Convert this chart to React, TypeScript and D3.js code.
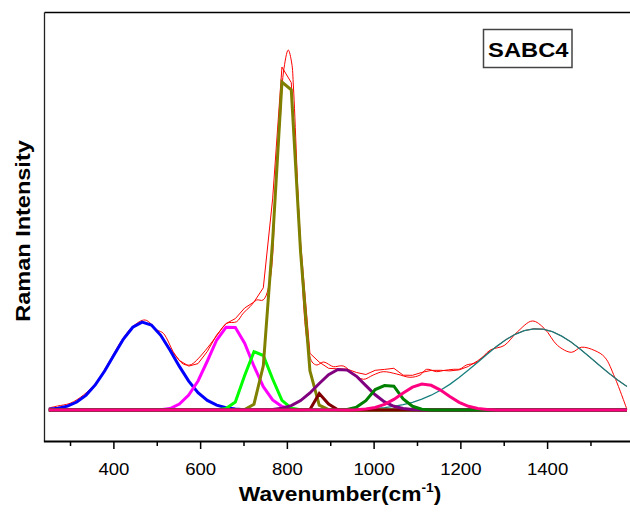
import React from "react";
import * as d3 from "d3";

// Raman spectrum of SABC4 with its fitted peak components.
// Intensities are in arbitrary counts; wavenumbers in cm^-1.

// Sampling grid shared by the fitted components
const WAVENUMBER = [
  250, 271.5, 293, 314.5, 336, 357.5, 379, 400.5, 422, 443.5, 465, 486.5, 508, 529.5, 551, 572.5,
  594, 615.5, 637, 658.5, 680, 701.5, 723, 744.5, 766, 787.5, 809, 830.5, 852, 873.5, 895, 916.5,
  938, 959.5, 981, 1002.5, 1024, 1045.5, 1067, 1088.5, 1110, 1131.5, 1153, 1174.5, 1196, 1217.5,
  1239, 1260.5, 1282, 1303.5, 1325, 1346.5, 1368, 1389.5, 1411, 1432.5, 1454, 1475.5, 1497, 1518.5,
  1540, 1561.5, 1583,
];

// Fitted components (one value per grid point)
const PEAK_470 = [
  7, 17, 39, 80, 149, 253, 392, 553, 709, 828, 879, 850, 747, 598, 436, 289,
  174, 96, 48, 22, 9, 3, 1, 0, 0, 0, 0, 0, 0, 0, 0, 0,
  0, 0, 0, 0, 0, 0, 0, 0, 0, 0, 0, 0, 0, 0,
  0, 0, 0, 0, 0, 0, 0, 0, 0, 0, 0, 0, 0, 0,
  0, 0, 0,
];
const PEAK_670 = [
  0, 0, 0, 0, 0, 0, 0, 0, 0, 0, 0, 0, 2, 14, 60, 150,
  290, 490, 700, 827, 825, 668, 438, 233, 101, 35, 10, 2, 0, 0, 0, 0,
  0, 0, 0, 0, 0, 0, 0, 0, 0, 0, 0, 0, 0, 0,
  0, 0, 0, 0, 0, 0, 0, 0, 0, 0, 0, 0, 0, 0,
  0, 0, 0,
];
const PEAK_730 = [
  0, 0, 0, 0, 0, 0, 0, 0, 0, 0, 0, 0, 0, 0, 0, 0,
  0, 0, 3, 15, 80, 345, 583, 545, 310, 96, 18, 2, 0, 0, 0, 0,
  0, 0, 0, 0, 0, 0, 0, 0, 0, 0, 0, 0, 0, 0,
  0, 0, 0, 0, 0, 0, 0, 0, 0, 0, 0, 0, 0, 0,
  0, 0, 0,
];
const PEAK_800 = [
  0, 0, 0, 0, 0, 0, 0, 0, 0, 0, 0, 0, 0, 0, 0, 0,
  0, 0, 0, 0, 0, 4, 58, 442, 1694, 3280, 3202, 1577, 392, 49, 3, 0,
  0, 0, 0, 0, 0, 0, 0, 0, 0, 0, 0, 0, 0, 0,
  0, 0, 0, 0, 0, 0, 0, 0, 0, 0, 0, 0, 0, 0,
  0, 0, 0,
];
const PEAK_880 = [
  0, 0, 0, 0, 0, 0, 0, 0, 0, 0, 0, 0, 0, 0, 0, 0,
  0, 0, 0, 0, 0, 0, 0, 0, 0, 0, 0, 0, 5, 165, 60, 3,
  0, 0, 0, 0, 0, 0, 0, 0, 0, 0, 0, 0, 0, 0,
  0, 0, 0, 0, 0, 0, 0, 0, 0, 0, 0, 0, 0, 0,
  0, 0, 0,
];
const PEAK_925 = [
  0, 0, 0, 0, 0, 0, 0, 0, 0, 0, 0, 0, 0, 0, 0, 0,
  0, 0, 0, 0, 0, 0, 0, 2, 6, 18, 44, 94, 170, 265, 353, 405,
  399, 337, 244, 152, 81, 37, 15, 5, 1, 0, 0, 0, 0, 0,
  0, 0, 0, 0, 0, 0, 0, 0, 0, 0, 0, 0, 0, 0,
  0, 0, 0,
];
const PEAK_1025 = [
  0, 0, 0, 0, 0, 0, 0, 0, 0, 0, 0, 0, 0, 0, 0, 0,
  0, 0, 0, 0, 0, 0, 0, 0, 0, 0, 0, 0, 0, 0, 0, 1,
  6, 29, 93, 205, 245, 238, 110, 37, 8, 1, 0, 0, 0, 0,
  0, 0, 0, 0, 0, 0, 0, 0, 0, 0, 0, 0, 0, 0,
  0, 0, 0,
];
const PEAK_1115 = [
  0, 0, 0, 0, 0, 0, 0, 0, 0, 0, 0, 0, 0, 0, 0, 0,
  0, 0, 0, 0, 0, 0, 0, 0, 0, 0, 0, 0, 0, 0, 0, 0,
  1, 3, 9, 25, 56, 106, 170, 228, 259, 247, 199, 135, 77, 37,
  15, 5, 1, 0, 0, 0, 0, 0, 0, 0, 0, 0, 0, 0,
  0, 0, 0,
];
const PEAK_1375 = [
  0, 0, 0, 0, 0, 0, 0, 0, 0, 0, 0, 0, 0, 0, 0, 0,
  0, 0, 0, 0, 0, 0, 0, 0, 0, 0, 0, 0, 0, 0, 1, 2,
  3, 6, 9, 15, 24, 36, 53, 77, 108, 148, 198, 256, 324, 399,
  478, 558, 634, 702, 757, 794, 812, 808, 783, 739, 680, 608, 530, 450,
  372, 300, 235,
];

// Measured spectrum
const RAW_X = [
  250, 270, 299, 330, 360, 390, 420, 445, 472, 500, 514, 540, 560, 575, 583, 600,
  621, 640, 660, 683, 698, 714, 729, 744, 760, 775, 783, 791, 802, 810, 814, 830,
  845, 857, 868, 883, 898, 906, 929, 950, 975, 998, 1021, 1052, 1083, 1106, 1121, 1144,
  1160, 1183, 1198, 1213, 1237, 1268, 1300, 1330, 1365, 1393, 1423, 1455, 1478, 1509, 1532, 1555,
  1583,
];
const RAW_Y = [
  20, 40, 67, 150, 280, 490, 710, 840, 900, 800, 767, 560, 460, 450, 467, 540,
  650, 760, 867, 883, 967, 1033, 1100, 1100, 1300, 2500, 2870, 3380, 3600, 3470, 3230, 1650,
  700, 480, 450, 480, 450, 433, 440, 370, 307, 350, 383, 360, 327, 350, 407, 383,
  395, 407, 410, 450, 476, 600, 645, 780, 890, 813, 645, 577, 628, 594, 527, 325,
  5,
];

const MAJOR_TICKS = [400, 600, 800, 1000, 1200, 1400];
const MINOR_TICKS = [300, 500, 700, 900, 1100, 1300, 1500];

const SAMPLE_LABEL = "SABC4";
const X_TITLE = "Wavenumber(cm";
const X_TITLE_SUP = "-1";
const Y_TITLE = "Raman Intensity";

// Drawing order, bottom to top, with stroke styles
const COMPONENTS: { values: number[]; color: string; width: number }[] = [
  { values: PEAK_1375, color: "#17807f", width: 1.3 },
  { values: PEAK_470, color: "#0000ff", width: 3 },
  { values: PEAK_670, color: "#ff00ff", width: 3 },
  { values: PEAK_730, color: "#00ff00", width: 3 },
  { values: PEAK_800, color: "#808000", width: 3 },
  { values: PEAK_880, color: "#800000", width: 3 },
  { values: PEAK_925, color: "#800080", width: 3 },
  { values: PEAK_1025, color: "#008000", width: 3 },
  { values: PEAK_1115, color: "#ff0080", width: 3 },
];

const FONT = "'Liberation Sans', Arial, Helvetica, sans-serif";
const STRETCH = 1.14;

export default function App() {
  const width = 630;
  const height = 512;
  const left = 44.5;
  const right = 630;
  const top = 12.5;
  const bottom = 441.5;

  const x = d3.scaleLinear().domain([240, 1590]).range([left, right]);
  const y = d3.scaleLinear().domain([-315, 3975]).range([bottom, top]);

  const straight = d3
    .line<[number, number]>()
    .x((d) => x(d[0]))
    .y((d) => y(d[1]));
  const smooth = d3
    .line<[number, number]>()
    .x((d) => x(d[0]))
    .y((d) => y(d[1]))
    .curve(d3.curveCatmullRom.alpha(0.5));

  const rawPts: [number, number][] = RAW_X.map((v, i) => [v, RAW_Y[i]]);
  // cumulative fit = sum of all components on the grid
  const fitPts: [number, number][] = WAVENUMBER.map((v, i) => [
    v,
    COMPONENTS.reduce((s, c) => s + c.values[i], 0),
  ]);

  return (
    <svg
      width={width}
      height={height}
      style={{ position: "absolute", left: 0, top: 0, background: "#fff" }}
      fontFamily={FONT}
    >
      <defs>
        <clipPath id="plot">
          <rect x={left} y={top} width={right - left} height={bottom - top} />
        </clipPath>
      </defs>

      <g clipPath="url(#plot)" fill="none">
        <path d={smooth(rawPts) || ""} stroke="#ff0000" strokeWidth={1} />
        <path d={straight(fitPts) || ""} stroke="#ff0000" strokeWidth={1} />
        {COMPONENTS.map((c, k) => (
          <path
            key={k}
            d={straight(WAVENUMBER.map((v, i) => [v, c.values[i]] as [number, number])) || ""}
            stroke={c.color}
            strokeWidth={c.width}
          />
        ))}
      </g>

      {/* frame */}
      <line x1={left} x2={right} y1={top} y2={top} stroke="#000" strokeWidth={1.3} />
      <line x1={left} x2={left} y1={top} y2={bottom} stroke="#222" strokeWidth={1.3} />
      <line x1={left - 0.6} x2={right} y1={bottom} y2={bottom} stroke="#000" strokeWidth={2} />

      {/* x axis ticks */}
      {MAJOR_TICKS.map((t) => (
        <g key={t}>
          <line x1={x(t)} x2={x(t)} y1={bottom} y2={bottom + 7.5} stroke="#000" strokeWidth={1.5} />
          <text
            transform={`translate(${x(t)},${475}) scale(${STRETCH},1)`}
            textAnchor="middle"
            fontSize={16.3}
            fill="#000"
          >
            {t}
          </text>
        </g>
      ))}
      {MINOR_TICKS.map((t) => (
        <line key={t} x1={x(t)} x2={x(t)} y1={bottom} y2={bottom + 4.5} stroke="#000" strokeWidth={1.5} />
      ))}

      {/* axis titles */}
      <text
        transform={`translate(340,501) scale(${STRETCH},1)`}
        textAnchor="middle"
        fontSize={20}
        fontWeight="bold"
        fill="#000"
      >
        {X_TITLE}
        <tspan fontSize={12} dy={-9}>
          {X_TITLE_SUP}
        </tspan>
        <tspan fontSize={20} dy={9}>
          )
        </tspan>
      </text>
      <text
        transform={`translate(30,231) rotate(-90) scale(1.12,1)`}
        textAnchor="middle"
        fontSize={21}
        fontWeight="bold"
        fill="#000"
      >
        {Y_TITLE}
      </text>

      {/* sample label */}
      <rect x={483.5} y={29.5} width={88.5} height={38} fill="#fff" stroke="#444" strokeWidth={1.5} />
      <text
        transform={`translate(528.3,56.5) scale(1.13,1)`}
        textAnchor="middle"
        fontSize={21}
        fontWeight="bold"
        fill="#000"
      >
        {SAMPLE_LABEL}
      </text>
    </svg>
  );
}
